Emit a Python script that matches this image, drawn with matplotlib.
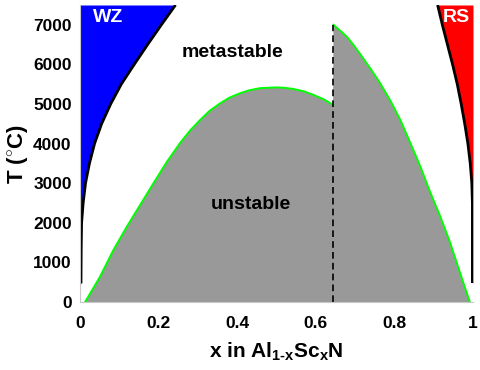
import matplotlib
matplotlib.use("Agg")
import matplotlib.pyplot as plt

plt.rcParams['font.family'] = ['Liberation Sans', 'DejaVu Sans']
plt.rcParams['mathtext.fontset'] = 'custom'
plt.rcParams['mathtext.rm'] = 'Liberation Sans:bold'
plt.rcParams['mathtext.bf'] = 'Liberation Sans:bold'
plt.rcParams['mathtext.default'] = 'bf'

# WZ binodal (x vs T)
wz_T = [470, 1300, 2000, 2500, 3000, 3500, 4000, 4500, 5000, 5500, 6000, 6500, 7000, 7500]
wz_x = [0.0025, 0.003, 0.004, 0.008, 0.014, 0.024, 0.037, 0.055, 0.078, 0.105,
        0.138, 0.172, 0.207, 0.243]

# RS binodal
rs_T = [480, 2500, 3000, 3500, 4000, 4500, 5000, 5500, 6000, 6500, 7000, 7250, 7500]
rs_x = [0.9985, 0.9985, 0.997, 0.993, 0.987, 0.979, 0.970, 0.960, 0.948, 0.935,
        0.922, 0.916, 0.910]

# spinodal, left branch (WZ side)
sp_left_x = [0.013, 0.051, 0.085, 0.119, 0.153, 0.187, 0.221, 0.255, 0.28, 0.306,
             0.33, 0.357, 0.38, 0.407, 0.43, 0.458, 0.501, 0.52, 0.543, 0.57,
             0.594, 0.62, 0.644]
sp_left_T = [0, 640, 1313, 1900, 2450, 3000, 3540, 4020, 4330, 4600,
             4830, 5020, 5160, 5270, 5345, 5400, 5420, 5410, 5380, 5320,
             5230, 5120, 4975]

# spinodal, right branch (RS side)
sp_right_x = [0.645, 0.66, 0.679, 0.696, 0.713, 0.74, 0.764, 0.79, 0.815, 0.84,
              0.866, 0.89, 0.917, 0.94, 0.959, 0.975, 0.992]
sp_right_T = [7000, 6870, 6700, 6490, 6260, 5880, 5520, 5080, 4600, 4030,
              3420, 2800, 2150, 1550, 980, 500, 0]

x_sep = 0.645
T_sep = 7000

xticks = [0, 0.2, 0.4, 0.6, 0.8, 1]
xtick_labels = ['0', '0.2', '0.4', '0.6', '0.8', '1']
yticks = [0, 1000, 2000, 3000, 4000, 5000, 6000, 7000]

fig = plt.figure(figsize=(4.8, 3.7), dpi=100)
ax = fig.add_axes([80/480, 1-302/370, 393/480, 297/370])

ax.fill_betweenx(wz_T, 0, wz_x, color='#0000ff', lw=0)
ax.fill_betweenx(rs_T, rs_x, 1, color='#ff0000', lw=0)
ax.plot(wz_x, wz_T, color='black', lw=2, solid_capstyle='butt')
ax.plot(rs_x, rs_T, color='black', lw=2, solid_capstyle='butt')

poly_x = sp_left_x + sp_right_x
poly_T = sp_left_T + sp_right_T
ax.fill(poly_x, poly_T, color='#999999', lw=0)
ax.plot(sp_left_x, sp_left_T, color='#00ff00', lw=1.4)
ax.plot(sp_right_x, sp_right_T, color='#00ff00', lw=1.4)
ax.plot([x_sep, x_sep], [0, T_sep], color='black', lw=1.2, dashes=(4, 2.5))

ax.text(0.071, 7190, 'WZ', color='white', fontsize=14, fontweight='bold', ha='center', va='center')
ax.text(0.957, 7190, 'RS', color='white', fontsize=14, fontweight='bold', ha='center', va='center')
ax.text(0.387, 6310, 'metastable', color='black', fontsize=14, fontweight='bold', ha='center', va='center')
ax.text(0.435, 2450, 'unstable', color='black', fontsize=14, fontweight='bold', ha='center', va='center')

ax.set_xlim(0, 1)
ax.set_ylim(0, 7500)
ax.set_xticks(xticks)
ax.set_xticklabels(xtick_labels)
ax.set_yticks(yticks)
ax.tick_params(length=0, labelsize=12.5, pad=6)
for lab in ax.get_xticklabels() + ax.get_yticklabels():
    lab.set_fontweight('bold')
ax.tick_params(axis='x', pad=10)

for s in ['top', 'right']:
    ax.spines[s].set_visible(False)
for s in ['left', 'bottom']:
    ax.spines[s].set_color('#c8c8c8')
    ax.spines[s].set_linewidth(0.8)

ax.set_xlabel(r'x in Al$_{1\text{-}x}$Sc$_{x}$N', fontsize=15, fontweight='bold', labelpad=7)
ax.set_ylabel(r'T ($^{\circ}$C)', fontsize=16, fontweight='bold', labelpad=2)

fig.savefig('out.png', dpi=100)
